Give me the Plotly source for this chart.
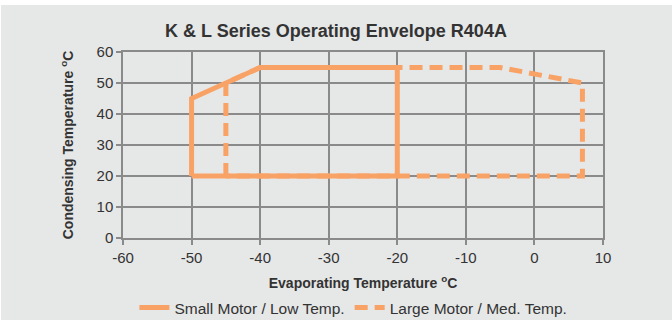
import plotly.graph_objects as go

# Operating envelope outlines (evaporating °C, condensing °C)
small_evap = [-50, -50, -40, -20, -20, -50]
small_cond = [20, 45, 55, 55, 20, 20]

large_evap = [-45, -45, -40, -5, 7, 7, -45]
large_cond = [20, 50, 55, 55, 50, 20, 20]

x_ticks = [-60, -50, -40, -30, -20, -10, 0, 10]
y_ticks = [0, 10, 20, 30, 40, 50, 60]

ORANGE = "#F9A266"
BG = "#E6E7E7"
GRID = "#8A8A8A"
TXT = "#333333"

fig = go.Figure()

fig.add_trace(go.Scatter(
    x=small_evap, y=small_cond, mode="lines",
    name="Small Motor / Low Temp.",
    line=dict(color=ORANGE, width=5),
))
fig.add_trace(go.Scatter(
    x=large_evap, y=large_cond, mode="lines",
    name="Large Motor / Med. Temp.",
    line=dict(color=ORANGE, width=5, dash="13px,7px"),
))

# grey panel, leaving a thin white strip on top like the source image
fig.add_shape(
    type="rect", xref="paper", yref="paper",
    x0=-0.254, x1=1.2, y0=-0.5, y1=1.253,
    fillcolor=BG, line=dict(width=0), layer="below",
)

fig.update_layout(
    width=672, height=320,
    paper_bgcolor="white",
    plot_bgcolor=BG,
    margin=dict(l=123, r=69, t=52, b=82),
    title=dict(
        text="<b>K & L Series Operating Envelope R404A</b>",
        font=dict(family="Liberation Sans, Arial, sans-serif", size=18, color=TXT),
        x=0.5, xanchor="center", y=0.905, yanchor="middle",
    ),
    font=dict(family="Liberation Sans, Arial, sans-serif", size=15, color=TXT),
    showlegend=True,
    legend=dict(
        orientation="h", x=0.48, xanchor="center",
        yref="container", y=0.0375, yanchor="middle",
        font=dict(size=15.5, color=TXT),
        bgcolor="rgba(0,0,0,0)", itemwidth=30,
    ),
)

fig.update_xaxes(
    range=[-60, 10], tickvals=x_ticks, ticktext=[str(v) for v in x_ticks],
    showgrid=True, gridcolor=GRID, gridwidth=1.5,
    showline=True, linecolor=GRID, linewidth=1.5, mirror=True,
    ticks="outside", ticklen=5, tickcolor=GRID, tickwidth=1.5,
    zeroline=False, automargin=False,
    title=dict(text="<b>Evaporating Temperature <sup>o</sup>C</b>",
               font=dict(size=14, color=TXT), standoff=19),
)
fig.update_yaxes(
    range=[0, 60], tickvals=y_ticks, ticktext=[str(v) for v in y_ticks],
    showgrid=True, gridcolor=GRID, gridwidth=1.5,
    showline=True, linecolor=GRID, linewidth=1.5, mirror=True,
    ticks="outside", ticklen=5, tickcolor=GRID, tickwidth=1.5,
    zeroline=False, automargin=False,
    title=dict(text="<b>Condensing Temperature <sup>o</sup>C</b>",
               font=dict(size=14, color=TXT), standoff=20),
)

fig.write_html(
    "out.html",
    config={"displayModeBar": False},
    post_script="document.body.style.margin='0';",
)
